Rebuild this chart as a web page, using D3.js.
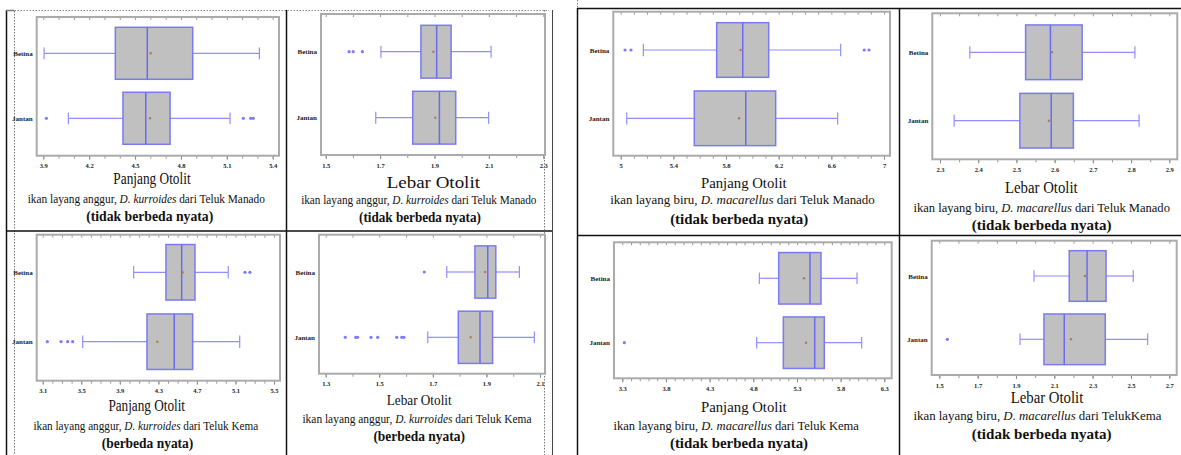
<!DOCTYPE html>
<html><head><meta charset="utf-8">
<script src="https://cdn.jsdelivr.net/npm/d3@7"></script>
<style>body{margin:0;background:#fff} svg{display:block} svg text{font-family:"Liberation Serif","Times New Roman",Times,serif !important}</style>
</head><body>
<svg id="c" width="1181" height="455"></svg>
<script>
// ---------- DATA ----------
const groups = ["Betina", "Jantan"];
// each summary: [lowerWhisker, Q1, median, Q3, upperWhisker, mean]
// D. kurroides, Teluk Manado, Panjang Otolit
const kurManPanBetina = [3.905, 4.371, 4.580, 4.877, 5.313, 4.602];
const kurManPanJantan = [4.064, 4.421, 4.570, 4.729, 5.121, 4.598];
const kurManPanOutBetina = [];
const kurManPanOutJantan = [3.920, 5.208, 5.256, 5.273];
const kurManPanTicks = [3.9, 4.2, 4.5, 4.8, 5.1, 5.4];
// D. kurroides, Teluk Manado, Lebar Otolit
const kurManLebBetina = [1.703, 1.850, 1.908, 1.961, 2.108, 1.896];
const kurManLebJantan = [1.684, 1.820, 1.918, 1.978, 2.099, 1.903];
const kurManLebOutBetina = [1.586, 1.601, 1.635];
const kurManLebOutJantan = [];
const kurManLebTicks = [1.5, 1.7, 1.9, 2.1, 2.3];
// D. kurroides, Teluk Kema, Panjang Otolit
const kurKemPanBetina = [4.044, 4.379, 4.542, 4.680, 5.025, 4.552];
const kurKemPanJantan = [3.515, 4.182, 4.465, 4.656, 5.144, 4.289];
const kurKemPanOutBetina = [5.199, 5.250];
const kurKemPanOutJantan = [3.148, 3.290, 3.359, 3.411];
const kurKemPanTicks = [3.1, 3.5, 3.9, 4.3, 4.7, 5.1, 5.5];
// D. kurroides, Teluk Kema, Lebar Otolit
const kurKemLebBetina = [1.752, 1.857, 1.905, 1.935, 2.023, 1.895];
const kurKemLebJantan = [1.681, 1.795, 1.876, 1.923, 2.079, 1.841];
const kurKemLebOutBetina = [1.668];
const kurKemLebOutJantan = [1.373, 1.412, 1.419, 1.469, 1.494, 1.565, 1.584, 1.592];
const kurKemLebTicks = [1.3, 1.5, 1.7, 1.9, 2.1];
// D. macarellus, Teluk Manado, Panjang Otolit
const macManPanBetina = [5.172, 5.729, 5.927, 6.124, 6.671, 5.911];
const macManPanJantan = [5.046, 5.559, 5.950, 6.177, 6.648, 5.899];
const macManPanOutBetina = [5.033, 5.078, 6.850, 6.886];
const macManPanOutJantan = [];
const macManPanTicks = [5, 5.4, 5.8, 6.2, 6.6, 7];
// D. macarellus, Teluk Manado, Lebar Otolit
const macManLebBetina = [2.378, 2.524, 2.589, 2.672, 2.810, 2.593];
const macManLebJantan = [2.337, 2.509, 2.591, 2.649, 2.821, 2.585];
const macManLebOutBetina = [];
const macManLebOutJantan = [];
const macManLebTicks = [2.3, 2.4, 2.5, 2.6, 2.7, 2.8, 2.9];
// D. macarellus, Teluk Kema, Panjang Otolit
const macKemPanBetina = [4.869, 5.091, 5.449, 5.575, 5.988, 5.381];
const macKemPanJantan = [4.839, 5.144, 5.503, 5.613, 6.041, 5.404];
const macKemPanOutBetina = [];
const macKemPanOutJantan = [3.323];
const macKemPanTicks = [3.3, 3.8, 4.3, 4.8, 5.3, 5.8, 6.3];
// D. macarellus, Teluk Kema, Lebar Otolit
const macKemLebBetina = [1.994, 2.178, 2.271, 2.370, 2.512, 2.260];
const macKemLebJantan = [1.921, 2.046, 2.152, 2.366, 2.587, 2.187];
const macKemLebOutBetina = [];
const macKemLebOutJantan = [1.542];
const macKemLebTicks = [1.5, 1.7, 1.9, 2.1, 2.3, 2.5, 2.7];

const titles = ["Panjang Otolit", "Lebar Otolit"];
const verdicts = ["(tidak berbeda nyata)", "(berbeda nyata)"];

// ---------- PANELS (data refs + layout) ----------
const panels = [
  {stats:[kurManPanBetina,kurManPanJantan], out:[kurManPanOutBetina,kurManPanOutJantan], ticks:kurManPanTicks, minor:0.1,
   title:titles[0], pre:"ikan layang anggur, ", sp:"D. kurroides", post:" dari Teluk Manado", verdict:verdicts[0],
   frame:[36.7,279,17,155.7], tr:[43.3,272.7], yc:[53.3,118.3],
   t:[152,184.3,77.3,16.5], s:[146.3,202.5,237.3], b:[149.7,221,127.3]},
  {stats:[kurManLebBetina,kurManLebJantan], out:[kurManLebOutBetina,kurManLebOutJantan], ticks:kurManLebTicks, minor:0.1,
   title:titles[1], pre:"ikan layang anggur, ", sp:"D. kurroides", post:" dari Teluk Manado", verdict:verdicts[0],
   frame:[321,545,14,155], tr:[325.7,543.3], yc:[51.7,117.7],
   t:[433.3,188.3,93.3,17.5], s:[418.8,204,235.7], b:[420,222,122]},
  {stats:[kurKemPanBetina,kurKemPanJantan], out:[kurKemPanOutBetina,kurKemPanOutJantan], ticks:kurKemPanTicks, minor:0.1,
   title:titles[0], pre:"ikan layang anggur, ", sp:"D. kurroides", post:" dari Teluk Kema", verdict:verdicts[1],
   frame:[36.7,280,234.7,380.7], tr:[42.7,274], yc:[272.3,341.7],
   t:[146.7,411.3,76.7,16], s:[145.8,429.5,225], b:[147.5,448,91.7]},
  {stats:[kurKemLebBetina,kurKemLebJantan], out:[kurKemLebOutBetina,kurKemLebOutJantan], ticks:kurKemLebTicks, minor:0.1,
   title:titles[1], pre:"ikan layang anggur, ", sp:"D. kurroides", post:" dari Teluk Kema", verdict:verdicts[1],
   frame:[319,545,234.7,373.7], tr:[325.7,540], yc:[272,337.3],
   t:[419.2,404.7,65,15], s:[417,423,229.3], b:[419.2,441,91.7]},
  {stats:[macManPanBetina,macManPanJantan], out:[macManPanOutBetina,macManPanOutJantan], ticks:macManPanTicks, minor:0.1,
   title:titles[0], pre:"ikan layang biru, ", sp:"D. macarellus", post:" dari Teluk Manado", verdict:verdicts[0],
   frame:[613.3,890,11.7,155.7], tr:[620.7,884], yc:[50,118.3],
   t:[743.8,187.7,85.7,15.5], s:[742.5,204,265], b:[739.2,223.5,138.3]},
  {stats:[macManLebBetina,macManLebJantan], out:[macManLebOutBetina,macManLebOutJantan], ticks:macManLebTicks, minor:0.05,
   title:titles[1], pre:"ikan layang biru, ", sp:"D. macarellus", post:" dari Teluk Manado", verdict:verdicts[0],
   frame:[932.3,1177.3,13.3,159.3], tr:[940,1169.3], yc:[52.3,120.7],
   t:[1041.3,193.3,72.7,16], s:[1041.7,211.5,256.7], b:[1041.7,230,140]},
  {stats:[macKemPanBetina,macKemPanJantan], out:[macKemPanOutBetina,macKemPanOutJantan], ticks:macKemPanTicks, minor:0.1,
   title:titles[0], pre:"ikan layang biru, ", sp:"D. macarellus", post:" dari Teluk Kema", verdict:verdicts[0],
   frame:[614,891.7,242.3,378.3], tr:[622.3,884.3], yc:[278.3,342.7],
   t:[743.8,412.3,85.7,15.5], s:[736.2,430,245.7], b:[739,448,138.3]},
  {stats:[macKemLebBetina,macKemLebJantan], out:[macKemLebOutBetina,macKemLebOutJantan], ticks:macKemLebTicks, minor:0.1,
   title:titles[1], pre:"ikan layang biru, ", sp:"D. macarellus", post:" dari TelukKema", verdict:verdicts[0],
   frame:[931.7,1176.7,240.7,375], tr:[939.3,1169.3], yc:[276,339.3],
   t:[1047,403.3,72.7,16], s:[1037.5,420,248.3], b:[1041.7,438.5,140]}
];

const svg = d3.select("#c");
const SERIF = "Liberation Serif";

// ---------- BORDERS ----------
const bd = svg.append("g");
function ln(x1,y1,x2,y2,stroke,w,dash){
  const l = bd.append("line").attr("x1",x1).attr("y1",y1).attr("x2",x2).attr("y2",y2)
    .attr("stroke",stroke).attr("stroke-width",w);
  if (dash) l.attr("stroke-dasharray",dash);
}
// left group
ln(6.5,10,6.5,455,"#111",1.5);
ln(14.5,11,14.5,455,"#777",1,"1.5,1.5");
ln(6,10.5,14.5,10.5,"#777",1.5);
ln(14.5,10.5,549,10.5,"#888",1,"1.5,1.5");
ln(286.5,10,286.5,455,"#111",1.5);
ln(6,231,553,231,"#111",1.5);
ln(544.5,10,544.5,455,"#777",1,"1.5,1.5");
ln(552.5,10,552.5,455,"#444",1);
// right group
ln(577,8.5,1181,8.5,"#111",1.5);
ln(577.5,0,577.5,8,"#888",1,"1.5,1.5");
ln(577.5,8,577.5,455,"#111",1.5);
ln(899.5,8,899.5,455,"#111",1.5);
ln(577,235.5,1181,235.5,"#111",1.5);

// ---------- PANELS ----------
const fmt = v => String(v);
function fitText(sel, cx, y, w){
  const len = sel.node().getComputedTextLength();
  sel.attr("transform", `translate(${cx},${y}) scale(${w/len},1)`);
}

panels.forEach(p => {
  const g = svg.append("g");
  const [fl, fr, ft, fb] = p.frame;
  const x = d3.scaleLinear().domain([p.ticks[0], p.ticks[p.ticks.length-1]]).range(p.tr);
  const y = d3.scalePoint().domain(groups).range(p.yc);
  const step = p.yc[1] - p.yc[0];
  const bh = step * 0.8, cap = step * 0.09;

  const t0 = p.ticks[0], t1 = p.ticks[p.ticks.length-1];
  const minorVals = d3.range(t0, t1 + p.minor/2, p.minor).map(v => +v.toFixed(4));
  const axB = g.append("g").attr("transform", `translate(0,${fb})`)
    .call(d3.axisBottom(x).tickValues(minorVals).tickSize(3).tickFormat(""));
  axB.select(".domain").remove();
  axB.selectAll("line").attr("stroke","#999");
  const axT = g.append("g").attr("transform", `translate(0,${ft})`)
    .call(d3.axisTop(x).tickValues(minorVals).tickSize(-3).tickFormat(""));
  axT.select(".domain").remove();
  axT.selectAll("line").attr("stroke","#999");
  const axL = g.append("g").attr("transform", `translate(0,${fb})`)
    .call(d3.axisBottom(x).tickValues(p.ticks).tickSize(4).tickPadding(4).tickFormat(fmt));
  axL.attr("font-family", SERIF).attr("font-size", 6.5);
  axL.select(".domain").remove();
  axL.selectAll("line").attr("stroke","#888");
  axL.selectAll("text").attr("font-weight","bold").attr("fill","#222");

  g.append("rect").attr("x",fl).attr("y",ft).attr("width",fr-fl).attr("height",fb-ft)
    .attr("fill","none").attr("stroke","#ababab").attr("stroke-width",2);

  groups.forEach(k => {
    g.append("text").attr("x", fl - 4).attr("y", y(k) + 2.5).attr("text-anchor","end")
      .attr("font-family",SERIF).attr("font-size",7).attr("font-weight","bold")
      .attr("fill","#222").text(k);
  });

  groups.forEach((k, i) => {
    const s = p.stats[i], cy = y(k);
    const [lo, q1, md, q3, hi, mean] = s;
    const wc = "#8f8fff";
    g.append("line").attr("x1",x(lo)).attr("x2",x(q1)).attr("y1",cy).attr("y2",cy).attr("stroke",wc).attr("stroke-width",1.2);
    g.append("line").attr("x1",x(q3)).attr("x2",x(hi)).attr("y1",cy).attr("y2",cy).attr("stroke",wc).attr("stroke-width",1.2);
    [lo, hi].forEach(v => g.append("line").attr("x1",x(v)).attr("x2",x(v))
      .attr("y1",cy-cap).attr("y2",cy+cap).attr("stroke",wc).attr("stroke-width",1.2));
    g.append("rect").attr("x",x(q1)).attr("y",cy-bh/2).attr("width",x(q3)-x(q1)).attr("height",bh)
      .attr("fill","#c0c0c0").attr("stroke","#7a7af2").attr("stroke-width",1.5);
    g.append("line").attr("x1",x(md)).attr("x2",x(md)).attr("y1",cy-bh/2).attr("y2",cy+bh/2)
      .attr("stroke","#6b6bf0").attr("stroke-width",1.5);
    g.append("circle").attr("cx",x(mean)).attr("cy",cy).attr("r",1.2).attr("fill","#b5784e");
    p.out[i].forEach(v => g.append("circle").attr("cx",x(v)).attr("cy",cy).attr("r",1.6).attr("fill","#7b7bff"));
  });

  const t = g.append("text").attr("text-anchor","middle").attr("font-family",SERIF)
    .attr("font-size",p.t[3]).attr("fill","#111").text(p.title);
  fitText(t, p.t[0], p.t[1], p.t[2]);
  const s = g.append("text").attr("text-anchor","middle").attr("font-family",SERIF)
    .attr("font-size",12).attr("fill","#111");
  s.append("tspan").text(p.pre);
  s.append("tspan").attr("font-style","italic").text(p.sp);
  s.append("tspan").text(p.post);
  fitText(s, p.s[0], p.s[1], p.s[2]);
  const b = g.append("text").attr("text-anchor","middle").attr("font-family",SERIF)
    .attr("font-size",15).attr("font-weight","bold").attr("fill","#111").text(p.verdict);
  fitText(b, p.b[0], p.b[1], p.b[2]);
});
</script>
</body></html>
